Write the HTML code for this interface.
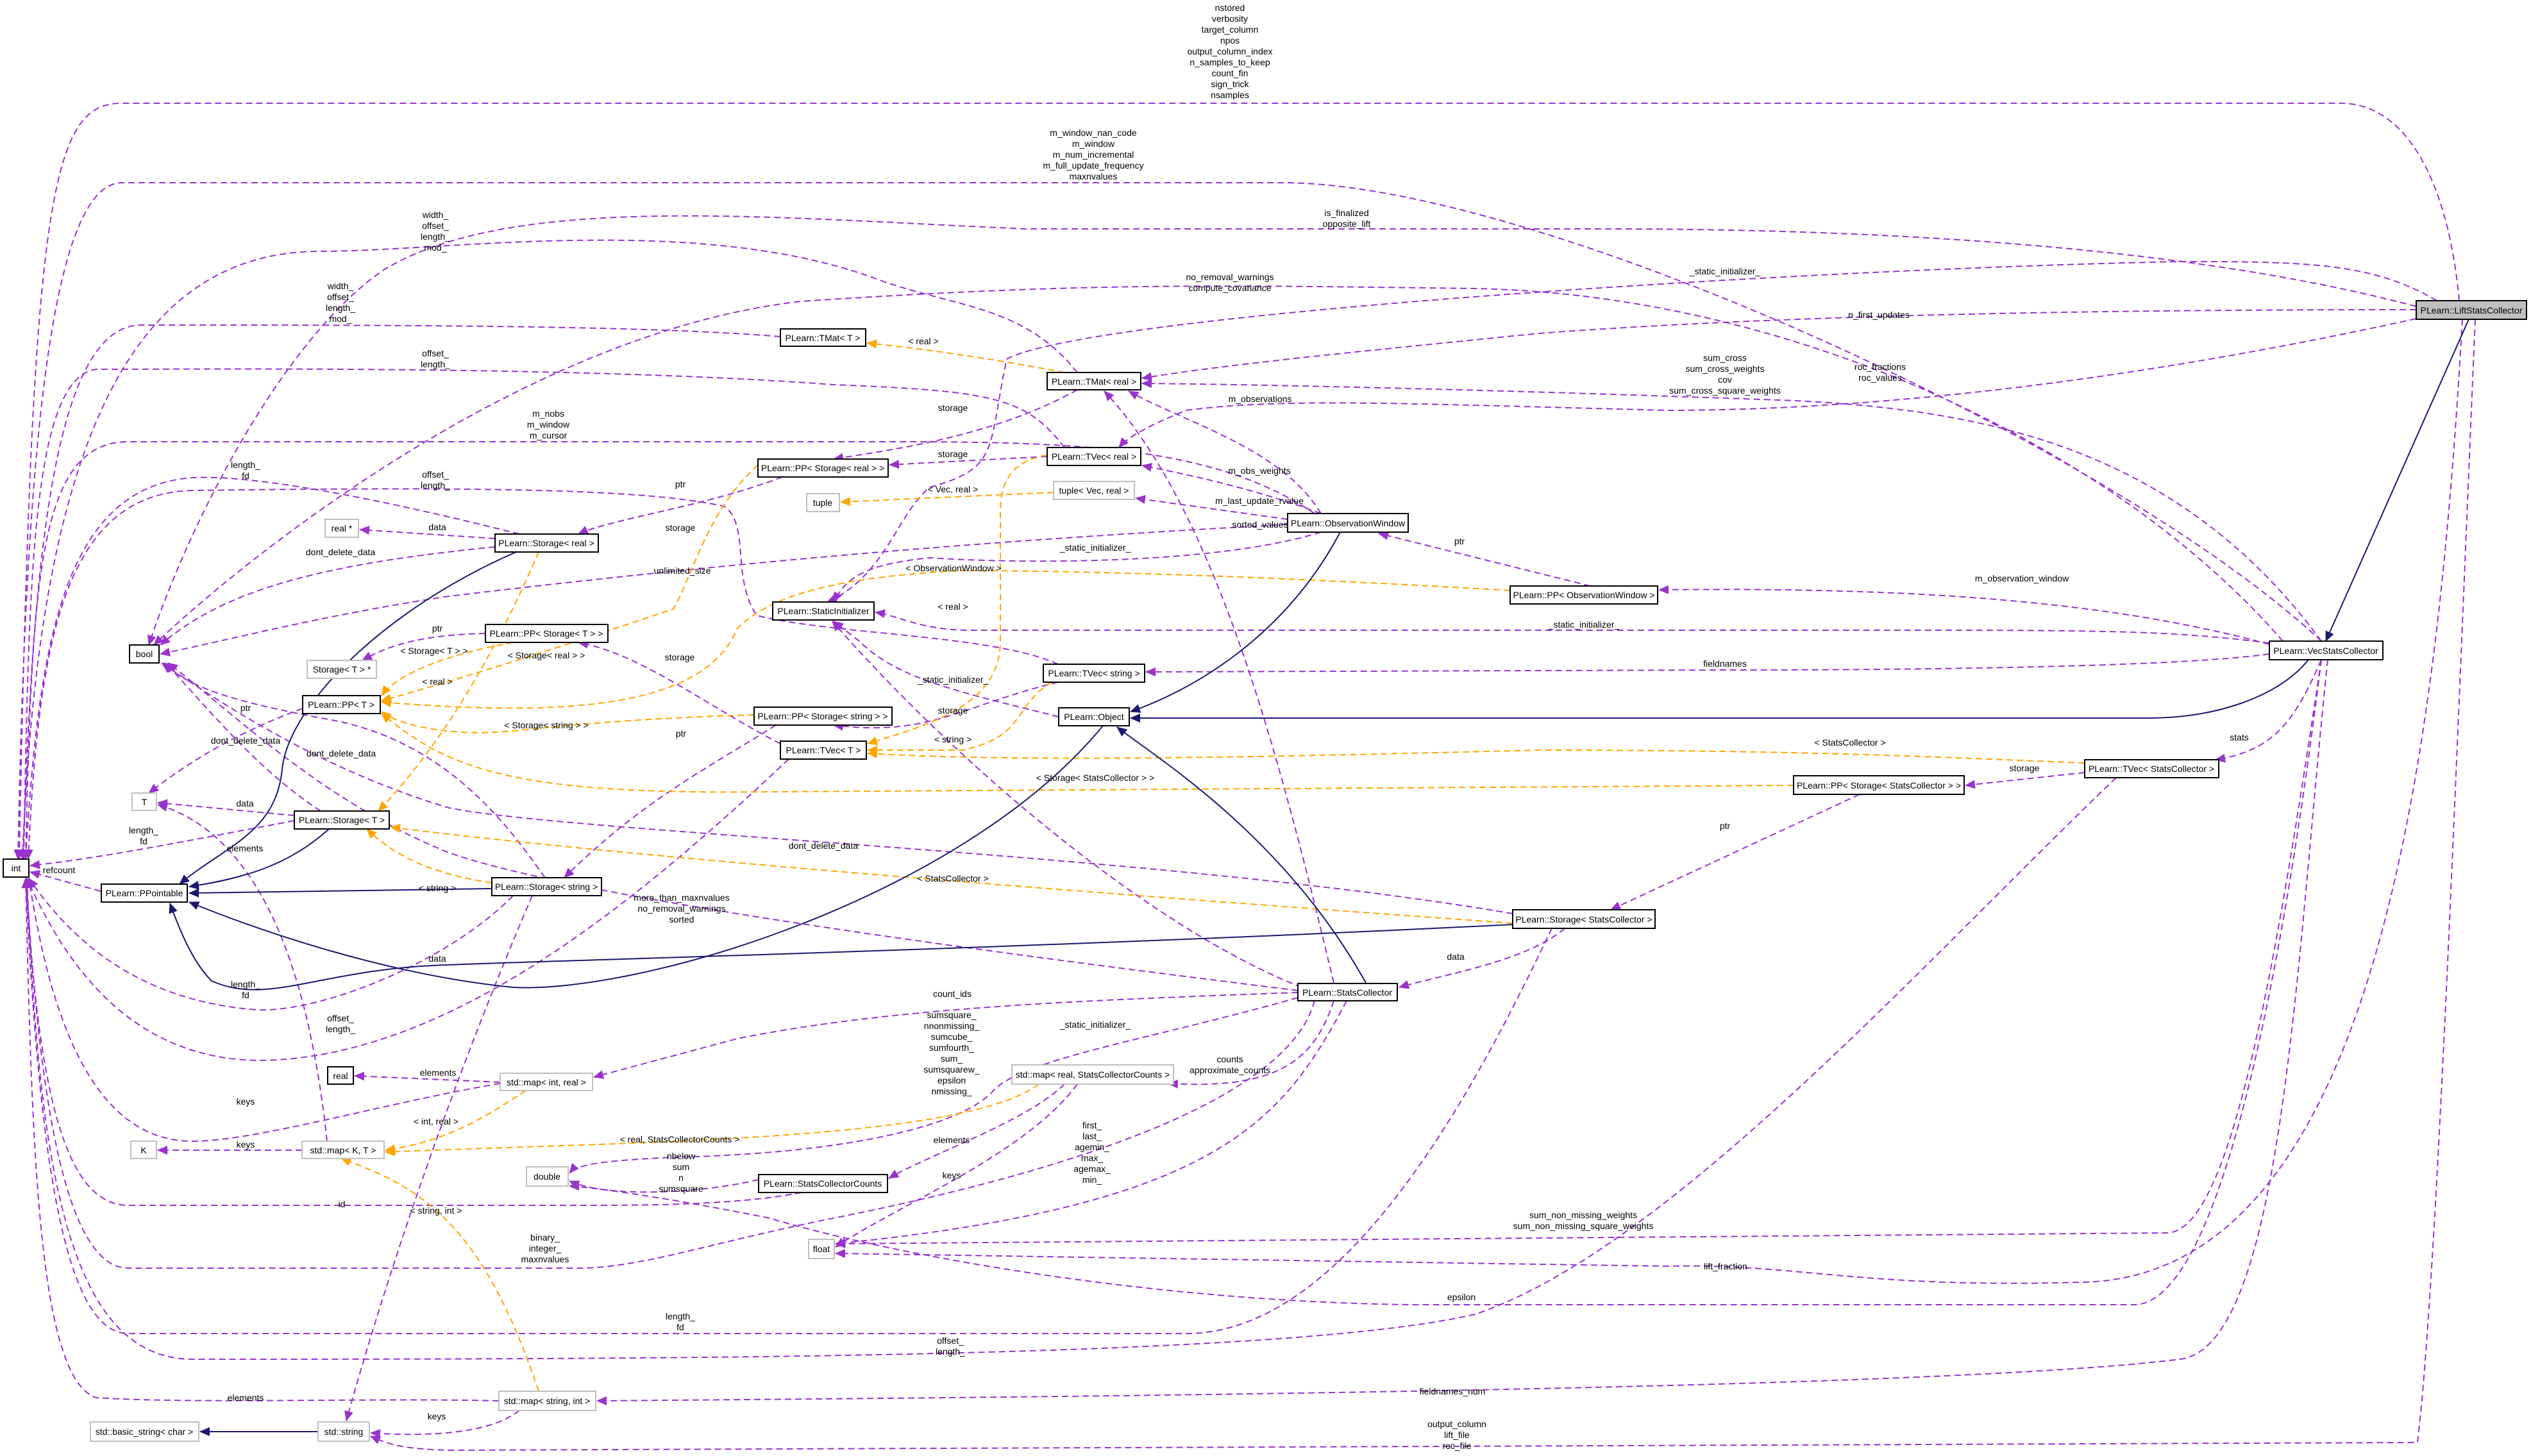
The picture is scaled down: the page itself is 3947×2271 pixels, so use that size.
<!DOCTYPE html>
<html><head><meta charset="utf-8"><style>
html,body{margin:0;padding:0;background:#fff;}
svg{display:block;}
text{font-family:"Liberation Sans",Arial,sans-serif;font-size:14px;fill:#000;}
.p{fill:none;stroke:#9a32cd;stroke-width:2;stroke-dasharray:10,6;}
.o{fill:none;stroke:#ffa500;stroke-width:2;stroke-dasharray:10,6;}
.n{fill:none;stroke:#191970;stroke-width:2;}
.b{fill:#fff;stroke:#000;stroke-width:2;}
.g{fill:#fff;stroke:#bfbfbf;stroke-width:2;}
</style></head><body>
<svg width="3947" height="2271" viewBox="0 0 3947 2271" xmlns="http://www.w3.org/2000/svg">
<defs>
<marker id="mp" markerUnits="userSpaceOnUse" markerWidth="16" markerHeight="14" refX="15" refY="7" orient="auto"><path d="M0,0 L16,7 L0,14 z" fill="#9a32cd"/></marker>
<marker id="mo" markerUnits="userSpaceOnUse" markerWidth="16" markerHeight="14" refX="15" refY="7" orient="auto"><path d="M0,0 L16,7 L0,14 z" fill="#ffa500"/></marker>
<marker id="mn" markerUnits="userSpaceOnUse" markerWidth="16" markerHeight="14" refX="15" refY="7" orient="auto"><path d="M0,0 L16,7 L0,14 z" fill="#191970"/></marker>
</defs>

<g marker-end="url(#mp)">
<path class="p" d="M3835,469 C3820,300 3760,161 3650,161 L190,161 C80,161 50,300 30,1340"/>
<path class="p" d="M3620,1000 C3300,700 2400,285 2000,285 L190,285 C80,285 40,700 28,1340"/>
<path class="p" d="M3768,478 C3400,380 2900,357 2500,357 L1600,357 C1200,340 800,300 600,420 C450,520 300,800 232,1006"/>
<path class="p" d="M1680,581 C1600,480 1500,480 1380,440 C1100,330 700,392 500,392 C200,392 60,700 35,1340"/>
<path class="p" d="M1217,525 C1000,507 600,507 220,507 C80,507 50,900 36,1340"/>
<path class="p" d="M1660,698 C1600,620 1550,610 1300,600 C900,570 300,576 150,576 C50,590 45,900 37,1340"/>
<path class="p" d="M2050,801 C1900,700 1700,689 1400,689 L200,689 C60,689 50,900 40,1340"/>
<path class="p" d="M3800,469 C3700,410 3600,408 3400,408 C2800,420 1700,490 1570,560 C1540,700 1560,730 1450,760 C1400,800 1380,900 1290,939"/>
<path class="p" d="M3768,483 C3300,483 2800,490 2400,520 C2100,550 1900,570 1781,590"/>
<path class="p" d="M3768,497 C3300,600 2900,640 2600,640 C2200,630 2000,620 1850,640 C1800,660 1760,680 1745,698"/>
<path class="p" d="M3620,1000 C3400,700 3100,640 2800,625 C2400,610 2000,600 1781,598"/>
<path class="p" d="M3560,1000 C3300,700 2800,460 2300,450 C1900,445 1700,440 1250,470 C800,520 350,900 240,1006"/>
<path class="p" d="M2060,801 C2000,700 1850,660 1760,610"/>
<path class="p" d="M2060,801 C1950,760 1850,740 1781,726"/>
<path class="p" d="M2008,810 L1771,777"/>
<path class="p" d="M2008,818 C1600,840 1200,870 700,930 C500,960 350,1000 250,1020"/>
<path class="p" d="M2060,830 C1900,880 1600,880 1450,870 C1350,880 1320,900 1300,939"/>
<path class="p" d="M2480,914 L2150,832"/>
<path class="p" d="M3539,1005 C3300,940 3000,915 2587,920"/>
<path class="p" d="M3539,1003 C3400,985 3300,983 3000,983 L1500,983 C1430,980 1400,960 1365,955"/>
<path class="p" d="M3539,1020 C3400,1040 3000,1045 2700,1045 L1787,1048"/>
<path class="p" d="M3620,1029 C3580,1120 3550,1170 3455,1185"/>
<path class="p" d="M3251,1205 L3065,1225"/>
<path class="p" d="M2900,1239 L2512,1419"/>
<path class="p" d="M2440,1448 C2380,1500 2250,1520 2182,1540"/>
<path class="p" d="M2359,1425 C1800,1330 900,1300 700,1260 C500,1200 350,1100 252,1034"/>
<path class="p" d="M2420,1448 C2300,1700 2100,2080 1850,2080 L200,2080 C100,2080 60,1800 40,1370"/>
<path class="p" d="M3300,1213 C3000,1500 2600,1950 2300,2050 C2000,2120 1000,2120 300,2120 C100,2120 60,1800 42,1370"/>
<path class="p" d="M2024,1545 C1500,1480 900,1400 700,1330 C500,1250 350,1100 262,1034"/>
<path class="p" d="M2024,1548 C1700,1560 1400,1570 1150,1620 L926,1680"/>
<path class="p" d="M2080,1561 C2050,1650 2000,1700 1822,1690"/>
<path class="p" d="M2024,1556 C1800,1620 1600,1650 1550,1700 C1500,1760 1300,1800 1050,1805 C950,1810 900,1815 888,1830"/>
<path class="p" d="M2100,1561 C2000,1750 1900,1880 1303,1940"/>
<path class="p" d="M2050,1561 C2000,1750 1500,1860 1300,1900 C1100,1940 1000,1978 900,1978 L200,1978 C100,1978 60,1700 41,1370"/>
<path class="p" d="M2080,1533 C2000,1200 1900,800 1722,610"/>
<path class="p" d="M2030,1540 C1800,1450 1500,1200 1298,969"/>
<path class="p" d="M1250,1860 C1150,1880 1000,1880 900,1880 L200,1880 C100,1880 60,1700 40,1370"/>
<path class="p" d="M1183,1840 C1100,1860 950,1870 888,1842"/>
<path class="p" d="M1660,1691 C1600,1750 1450,1800 1386,1838"/>
<path class="p" d="M1680,1691 C1600,1800 1400,1880 1303,1945"/>
<path class="p" d="M780,1688 L553,1678"/>
<path class="p" d="M780,1690 C600,1720 400,1780 300,1780 C150,1780 80,1600 45,1370"/>
<path class="p" d="M471,1794 L246,1794"/>
<path class="p" d="M510,1780 C480,1500 400,1300 246,1255"/>
<path class="p" d="M778,2185 C600,2180 300,2190 150,2180 C60,2150 50,1800 40,1370"/>
<path class="p" d="M810,2200 C760,2240 650,2240 578,2235"/>
<path class="p" d="M3860,498 C3830,1200 3800,2000 3770,2250 L700,2262 C620,2260 600,2250 578,2240"/>
<path class="p" d="M3630,1029 C3580,1500 3560,2100 3400,2120 C3000,2170 1500,2180 931,2185"/>
<path class="p" d="M3620,1029 C3550,1500 3480,1920 3380,1923 L1303,1940"/>
<path class="p" d="M3840,498 C3800,1200 3700,2000 3240,2000 C2900,2010 2800,1970 2600,1975 L1303,1955"/>
<path class="p" d="M3620,1029 C3550,1600 3450,2030 3330,2035 L2200,2035 C1800,2030 1400,1960 1200,1900 C1000,1860 900,1850 888,1850"/>
<path class="p" d="M1230,1184 C1000,1400 700,1654 400,1654 C200,1650 100,1500 42,1370"/>
<path class="p" d="M800,1397 C700,1500 500,1580 400,1575 C200,1560 100,1450 45,1370"/>
<path class="p" d="M850,1369 C800,1300 700,1150 500,1120 C400,1100 300,1080 255,1034"/>
<path class="p" d="M830,1397 C700,1700 600,2000 540,2216"/>
<path class="p" d="M459,1272 L246,1252"/>
<path class="p" d="M459,1280 C300,1310 150,1340 47,1350"/>
<path class="p" d="M500,1265 C400,1200 320,1100 258,1034"/>
<path class="p" d="M472,1105 C350,1150 280,1200 232,1237"/>
<path class="p" d="M757,988 C650,990 600,1010 565,1030"/>
<path class="p" d="M772,840 L561,826"/>
<path class="p" d="M772,853 C500,880 350,920 250,1006"/>
<path class="p" d="M810,833 C600,780 400,740 300,745 C100,760 60,1000 40,1340"/>
<path class="p" d="M1220,744 C1100,790 950,810 902,833"/>
<path class="p" d="M1680,608 C1550,680 1400,700 1300,716"/>
<path class="p" d="M1633,712 L1387,725"/>
<path class="p" d="M1650,1064 C1500,1100 1450,1150 1300,1131"/>
<path class="p" d="M1650,1036 C1550,990 1300,990 1180,960 C1140,900 1170,820 1130,790 C1000,760 700,760 300,765 C100,770 60,1000 44,1340"/>
<path class="p" d="M1217,1160 C1100,1100 1000,1020 902,1002"/>
<path class="p" d="M1210,1131 C1100,1200 1000,1250 880,1369"/>
<path class="p" d="M1651,1118 C1500,1080 1400,1060 1340,1000 L1300,969"/>
<path class="p" d="M157,1390 L47,1360"/>
</g>

<g marker-end="url(#mo)">
<path class="o" d="M1643,768 L1311,783"/>
<path class="o" d="M1660,581 C1550,560 1450,545 1352,535"/>
<path class="o" d="M1633,710 C1570,720 1560,760 1560,800 L1560,1000 C1560,1100 1450,1130 1353,1160"/>
<path class="o" d="M1640,1064 C1580,1100 1600,1150 1500,1170 L1353,1170"/>
<path class="o" d="M3251,1190 C3000,1180 2800,1170 2400,1170 C2000,1180 1600,1190 1353,1175"/>
<path class="o" d="M2355,921 C2000,900 1700,890 1500,890 C1300,900 1200,930 1150,980 C1100,1100 900,1120 595,1095"/>
<path class="o" d="M1182,725 C1100,800 1080,900 1050,950 C900,1000 750,1050 595,1093"/>
<path class="o" d="M1176,1115 C1000,1120 900,1130 800,1140 C700,1150 620,1130 595,1110"/>
<path class="o" d="M2797,1225 L1200,1235 C800,1240 700,1200 595,1113"/>
<path class="o" d="M800,1002 C700,1020 620,1050 595,1085"/>
<path class="o" d="M840,861 C780,1000 700,1150 590,1265"/>
<path class="o" d="M767,1377 C650,1360 600,1320 572,1293"/>
<path class="o" d="M2359,1440 C1800,1400 1000,1340 609,1290"/>
<path class="o" d="M820,1701 C760,1740 700,1780 601,1794"/>
<path class="o" d="M1620,1691 C1500,1780 1000,1780 601,1797"/>
<path class="o" d="M840,2170 C750,1900 650,1850 532,1807"/>
</g>

<g marker-end="url(#mn)">
<path class="n" d="M805,861 C600,950 450,1100 440,1200 C430,1300 350,1320 280,1379"/>
<path class="n" d="M513,1293 C450,1350 380,1370 295,1383"/>
<path class="n" d="M767,1386 L295,1393"/>
<path class="n" d="M2359,1442 C1600,1480 800,1500 700,1505 C500,1510 420,1570 330,1530 C300,1500 280,1450 265,1409"/>
<path class="n" d="M1720,1132 C1500,1400 1000,1550 800,1540 C600,1520 400,1450 295,1407"/>
<path class="n" d="M2090,830 C2000,1000 1850,1080 1763,1110"/>
<path class="n" d="M3600,1029 C3550,1090 3450,1120 3350,1120 L1763,1120"/>
<path class="n" d="M3850,498 L3627,1000"/>
<path class="n" d="M2130,1533 C2000,1300 1800,1180 1742,1134"/>
<path class="n" d="M496,2233 L312,2233"/>
</g>

<!-- nodes -->
<g>
<rect class="b" x="3768" y="469" width="172" height="29" style="fill:#bfbfbf"/><text x="3854" y="489" text-anchor="middle">PLearn::LiftStatsCollector</text>
<rect class="b" x="3539" y="1000" width="177" height="29"/><text x="3627" y="1020" text-anchor="middle">PLearn::VecStatsCollector</text>
<rect class="b" x="3251" y="1185" width="209" height="28"/><text x="3355" y="1204" text-anchor="middle">PLearn::TVec&lt; StatsCollector &gt;</text>
<rect class="b" x="2797" y="1210" width="266" height="29"/><text x="2930" y="1230" text-anchor="middle">PLearn::PP&lt; Storage&lt; StatsCollector &gt; &gt;</text>
<rect class="b" x="2359" y="1419" width="222" height="29"/><text x="2470" y="1439" text-anchor="middle">PLearn::Storage&lt; StatsCollector &gt;</text>
<rect class="b" x="2024" y="1534" width="155" height="27"/><text x="2101" y="1553" text-anchor="middle">PLearn::StatsCollector</text>
<rect class="b" x="1217" y="513" width="133" height="27"/><text x="1283" y="532" text-anchor="middle">PLearn::TMat&lt; T &gt;</text>
<rect class="b" x="1633" y="581" width="146" height="27"/><text x="1706" y="600" text-anchor="middle">PLearn::TMat&lt; real &gt;</text>
<rect class="b" x="1633" y="698" width="146" height="28"/><text x="1706" y="717" text-anchor="middle">PLearn::TVec&lt; real &gt;</text>
<rect class="b" x="1182" y="716" width="203" height="28"/><text x="1283" y="735" text-anchor="middle">PLearn::PP&lt; Storage&lt; real &gt; &gt;</text>
<rect class="g" x="1643" y="751" width="126" height="28"/><text x="1706" y="770" text-anchor="middle">tuple&lt; Vec, real &gt;</text>
<rect class="g" x="1258" y="770" width="51" height="28"/><text x="1283" y="789" text-anchor="middle">tuple</text>
<rect class="b" x="2008" y="801" width="188" height="29"/><text x="2102" y="821" text-anchor="middle">PLearn::ObservationWindow</text>
<rect class="b" x="1205" y="939" width="158" height="28"/><text x="1284" y="958" text-anchor="middle">PLearn::StaticInitializer</text>
<rect class="b" x="2355" y="914" width="230" height="28"/><text x="2470" y="933" text-anchor="middle">PLearn::PP&lt; ObservationWindow &gt;</text>
<rect class="b" x="1627" y="1036" width="158" height="28"/><text x="1706" y="1055" text-anchor="middle">PLearn::TVec&lt; string &gt;</text>
<rect class="b" x="1651" y="1104" width="110" height="28"/><text x="1706" y="1123" text-anchor="middle">PLearn::Object</text>
<rect class="b" x="1176" y="1103" width="215" height="28"/><text x="1283" y="1122" text-anchor="middle">PLearn::PP&lt; Storage&lt; string &gt; &gt;</text>
<rect class="b" x="1217" y="1156" width="134" height="28"/><text x="1284" y="1175" text-anchor="middle">PLearn::TVec&lt; T &gt;</text>
<rect class="b" x="202" y="1006" width="46" height="28"/><text x="225" y="1025" text-anchor="middle">bool</text>
<rect class="g" x="507" y="810" width="52" height="28"/><text x="533" y="829" text-anchor="middle">real *</text>
<rect class="b" x="772" y="833" width="161" height="28"/><text x="852" y="852" text-anchor="middle">PLearn::Storage&lt; real &gt;</text>
<rect class="b" x="757" y="974" width="191" height="28"/><text x="852" y="993" text-anchor="middle">PLearn::PP&lt; Storage&lt; T &gt; &gt;</text>
<rect class="g" x="479" y="1030" width="108" height="28"/><text x="533" y="1049" text-anchor="middle">Storage&lt; T &gt; *</text>
<rect class="b" x="472" y="1085" width="121" height="28"/><text x="532" y="1104" text-anchor="middle">PLearn::PP&lt; T &gt;</text>
<rect class="g" x="206" y="1237" width="38" height="27"/><text x="225" y="1256" text-anchor="middle">T</text>
<rect class="b" x="459" y="1265" width="148" height="28"/><text x="533" y="1284" text-anchor="middle">PLearn::Storage&lt; T &gt;</text>
<rect class="b" x="5" y="1340" width="40" height="28"/><text x="25" y="1359" text-anchor="middle">int</text>
<rect class="b" x="158" y="1379" width="134" height="28"/><text x="225" y="1398" text-anchor="middle">PLearn::PPointable</text>
<rect class="b" x="767" y="1369" width="171" height="28"/><text x="852" y="1388" text-anchor="middle">PLearn::Storage&lt; string &gt;</text>
<rect class="g" x="780" y="1674" width="144" height="27"/><text x="852" y="1693" text-anchor="middle">std::map&lt; int, real &gt;</text>
<rect class="b" x="511" y="1664" width="40" height="27"/><text x="531" y="1683" text-anchor="middle">real</text>
<rect class="g" x="1578" y="1661" width="252" height="30"/><text x="1704" y="1681" text-anchor="middle">std::map&lt; real, StatsCollectorCounts &gt;</text>
<rect class="g" x="204" y="1780" width="40" height="27"/><text x="224" y="1799" text-anchor="middle">K</text>
<rect class="g" x="471" y="1780" width="128" height="27"/><text x="535" y="1799" text-anchor="middle">std::map&lt; K, T &gt;</text>
<rect class="g" x="821" y="1820" width="65" height="30"/><text x="853" y="1840" text-anchor="middle">double</text>
<rect class="b" x="1183" y="1832" width="201" height="28"/><text x="1283" y="1851" text-anchor="middle">PLearn::StatsCollectorCounts</text>
<rect class="g" x="1261" y="1933" width="40" height="30"/><text x="1281" y="1953" text-anchor="middle">float</text>
<rect class="g" x="778" y="2170" width="151" height="30"/><text x="853" y="2190" text-anchor="middle">std::map&lt; string, int &gt;</text>
<rect class="g" x="141" y="2218" width="169" height="30"/><text x="225" y="2238" text-anchor="middle">std::basic_string&lt; char &gt;</text>
<rect class="g" x="496" y="2218" width="80" height="30"/><text x="536" y="2238" text-anchor="middle">std::string</text>
</g>

<!-- labels -->
<g text-anchor="middle">
<text x="1918" y="17">nstored</text><text x="1918" y="34">verbosity</text><text x="1918" y="51">target_column</text><text x="1918" y="68">npos</text><text x="1918" y="85">output_column_index</text><text x="1918" y="102">n_samples_to_keep</text><text x="1918" y="119">count_fin</text><text x="1918" y="136">sign_trick</text><text x="1918" y="153">nsamples</text>
<text x="1705" y="212">m_window_nan_code</text><text x="1705" y="229">m_window</text><text x="1705" y="246">m_num_incremental</text><text x="1705" y="263">m_full_update_frequency</text><text x="1705" y="280">maxnvalues</text>
<text x="2100" y="337">is_finalized</text><text x="2100" y="354">opposite_lift</text>
<text x="679" y="340">width_</text><text x="679" y="357">offset_</text><text x="679" y="374">length_</text><text x="679" y="391">mod_</text>
<text x="1918" y="437">no_removal_warnings</text><text x="1918" y="454">compute_covariance</text>
<text x="531" y="451">width_</text><text x="531" y="468">offset_</text><text x="531" y="485">length_</text><text x="531" y="502">mod_</text>
<text x="2690" y="428">_static_initializer_</text>
<text x="2930" y="496">n_first_updates</text>
<text x="1440" y="537">&lt; real &gt;</text>
<text x="2690" y="563">sum_cross</text><text x="2690" y="580">sum_cross_weights</text><text x="2690" y="597">cov</text><text x="2690" y="614">sum_cross_square_weights</text>
<text x="2932" y="577">roc_fractions</text><text x="2932" y="594">roc_values</text>
<text x="679" y="556">offset_</text><text x="679" y="573">length_</text>
<text x="1486" y="641">storage</text>
<text x="1965" y="627">m_observations</text>
<text x="855" y="650">m_nobs</text><text x="855" y="667">m_window</text><text x="855" y="684">m_cursor</text>
<text x="1486" y="713">storage</text>
<text x="1964" y="739">m_obs_weights</text>
<text x="383" y="730">length_</text><text x="383" y="747">fd</text>
<text x="679" y="745">offset_</text><text x="679" y="762">length_</text>
<text x="1061" y="760">ptr</text>
<text x="1486" y="768">&lt; Vec, real &gt;</text>
<text x="1964" y="786">m_last_update_rvalue</text>
<text x="682" y="827">data</text>
<text x="1061" y="828">storage</text>
<text x="1965" y="823">sorted_values</text>
<text x="531" y="866">dont_delete_data</text>
<text x="1064" y="895">unlimited_size</text>
<text x="1708" y="859">_static_initializer_</text>
<text x="2276" y="849">ptr</text>
<text x="1487" y="891">&lt; ObservationWindow &gt;</text>
<text x="3153" y="907">m_observation_window</text>
<text x="1486" y="951">&lt; real &gt;</text>
<text x="2470" y="979">_static_initializer_</text>
<text x="682" y="985">ptr</text>
<text x="2690" y="1040">fieldnames</text>
<text x="677" y="1020">&lt; Storage&lt; T &gt; &gt;</text>
<text x="852" y="1027">&lt; Storage&lt; real &gt; &gt;</text>
<text x="1060" y="1030">storage</text>
<text x="682" y="1068">&lt; real &gt;</text>
<text x="1486" y="1065">_static_initializer_</text>
<text x="383" y="1109">ptr</text>
<text x="3492" y="1155">stats</text>
<text x="852" y="1136">&lt; Storage&lt; string &gt; &gt;</text>
<text x="1486" y="1113">storage</text>
<text x="1062" y="1149">ptr</text>
<text x="1486" y="1158">&lt; string &gt;</text>
<text x="383" y="1160">dont_delete_data</text>
<text x="2885" y="1163">&lt; StatsCollector &gt;</text>
<text x="532" y="1180">dont_delete_data</text>
<text x="3157" y="1203">storage</text>
<text x="1708" y="1218">&lt; Storage&lt; StatsCollector &gt; &gt;</text>
<text x="382" y="1258">data</text>
<text x="2690" y="1293">ptr</text>
<text x="224" y="1300">length_</text><text x="224" y="1317">fd</text>
<text x="382" y="1328">elements</text>
<text x="1284" y="1324">dont_delete_data</text>
<text x="682" y="1390">&lt; string &gt;</text>
<text x="92" y="1362">refcount</text>
<text x="1486" y="1375">&lt; StatsCollector &gt;</text>
<text x="1063" y="1405">more_than_maxnvalues</text><text x="1063" y="1422">no_removal_warnings</text><text x="1063" y="1439">sorted</text>
<text x="682" y="1500">data</text>
<text x="2270" y="1497">data</text>
<text x="383" y="1540">length_</text><text x="383" y="1557">fd</text>
<text x="1708" y="1603">_static_initializer_</text>
<text x="531" y="1593">offset_</text><text x="531" y="1610">length_</text>
<text x="1485" y="1555">count_ids</text>
<text x="1484" y="1588">sumsquare_</text><text x="1484" y="1605">nnonmissing_</text><text x="1484" y="1622">sumcube_</text><text x="1484" y="1639">sumfourth_</text><text x="1484" y="1656">sum_</text><text x="1484" y="1673">sumsquarew_</text><text x="1484" y="1690">epsilon</text><text x="1484" y="1707">nmissing_</text>
<text x="1918" y="1657">counts</text><text x="1918" y="1674">approximate_counts</text>
<text x="683" y="1678">elements</text>
<text x="383" y="1723">keys</text>
<text x="680" y="1754">&lt; int, real &gt;</text>
<text x="1703" y="1760">first_</text><text x="1703" y="1777">last_</text><text x="1703" y="1794">agemin_</text><text x="1703" y="1811">max_</text><text x="1703" y="1828">agemax_</text><text x="1703" y="1845">min_</text>
<text x="1484" y="1783">elements</text>
<text x="383" y="1790">keys</text>
<text x="1060" y="1782">&lt; real, StatsCollectorCounts &gt;</text>
<text x="1062" y="1808">nbelow</text><text x="1062" y="1825">sum</text><text x="1062" y="1842">n</text><text x="1062" y="1859">sumsquare</text>
<text x="1484" y="1838">keys</text>
<text x="533" y="1883">id</text>
<text x="680" y="1893">&lt; string, int &gt;</text>
<text x="2469" y="1900">sum_non_missing_weights</text><text x="2469" y="1917">sum_non_missing_square_weights</text>
<text x="850" y="1935">binary_</text><text x="850" y="1952">integer_</text><text x="850" y="1969">maxnvalues</text>
<text x="2691" y="1980">lift_fraction</text>
<text x="2279" y="2028">epsilon</text>
<text x="1061" y="2058">length_</text><text x="1061" y="2075">fd</text>
<text x="1482" y="2096">offset_</text><text x="1482" y="2113">length_</text>
<text x="383" y="2185">elements</text>
<text x="2265" y="2175">fieldnames_num</text>
<text x="681" y="2214">keys</text>
<text x="2272" y="2226">output_column</text><text x="2272" y="2243">lift_file</text><text x="2272" y="2260">roc_file</text>
</g>
</svg>
</body></html>
